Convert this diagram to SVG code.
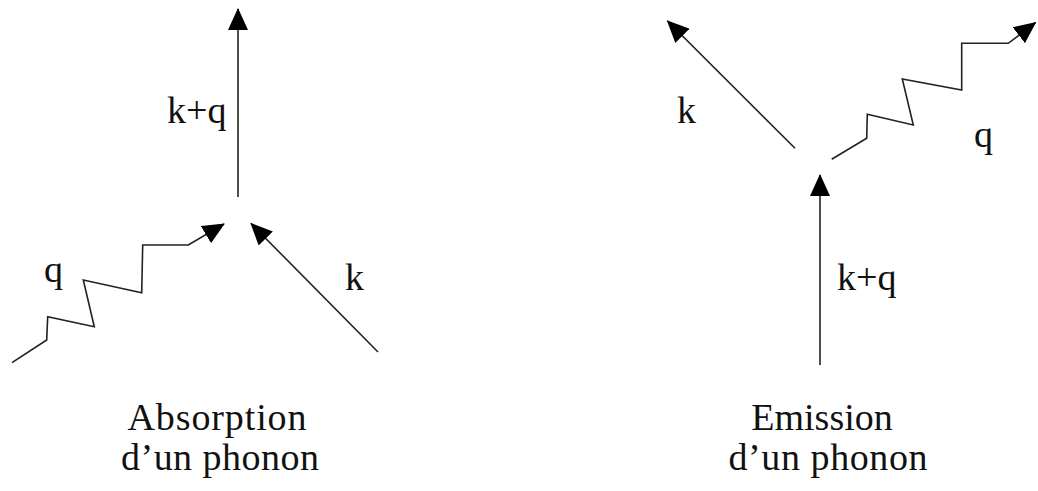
<svg xmlns="http://www.w3.org/2000/svg" width="1038" height="491" viewBox="0 0 1038 491">
<style>
.ln{fill:none;stroke:#222;stroke-width:1.6;stroke-linejoin:miter}
.t{font-family:"Liberation Serif","Times New Roman",serif;font-size:38px;fill:#111}
.c{text-anchor:middle}
</style>
<defs>
<marker id="ah" viewBox="0 0 22 20" markerUnits="userSpaceOnUse" markerWidth="22" markerHeight="20" refX="21" refY="10" orient="auto">
<path d="M0,0 L22,10 L0,20 z" fill="#000"/>
</marker>
</defs>
<rect width="1038" height="491" fill="#fff"/>
<g id="connectors">
<path class="ln" d="M238,197 L238,9" marker-end="url(#ah)"/>
<path class="ln" d="M378,352 L251,223.5" marker-end="url(#ah)"/>
<path class="ln" d="M12,362.7 L46.7,340 L47.7,316.7 L94.3,326.7 L83.3,280 L141.7,292.7 L142.7,245 L188.3,245 L224,224" marker-end="url(#ah)"/>
<path class="ln" d="M820,365 L820,175" marker-end="url(#ah)"/>
<path class="ln" d="M795,148.3 L667.5,21" marker-end="url(#ah)"/>
<path class="ln" d="M831.7,159.3 L866.7,138.3 L867.3,114.3 L913.3,125 L902.3,79 L961.7,90 L961.7,43.3 L1008.3,43.3 L1035.5,22.5" marker-end="url(#ah)"/>
</g>
<g id="absorption">
<text class="t" x="167" y="123">k+q</text>
<text class="t" x="44" y="282">q</text>
<text class="t" x="345" y="290">k</text>
<text class="t c" x="217" y="430" textLength="179" lengthAdjust="spacing">Absorption</text>
<text class="t c" x="220" y="470" textLength="198" lengthAdjust="spacing">d’un phonon</text>
</g>
<g id="emission">
<text class="t" x="677" y="123">k</text>
<text class="t" x="974" y="147">q</text>
<text class="t" x="837" y="290">k+q</text>
<text class="t c" x="822" y="430">Emission</text>
<text class="t c" x="828" y="470" textLength="199" lengthAdjust="spacing">d’un phonon</text>
</g>
</svg>
